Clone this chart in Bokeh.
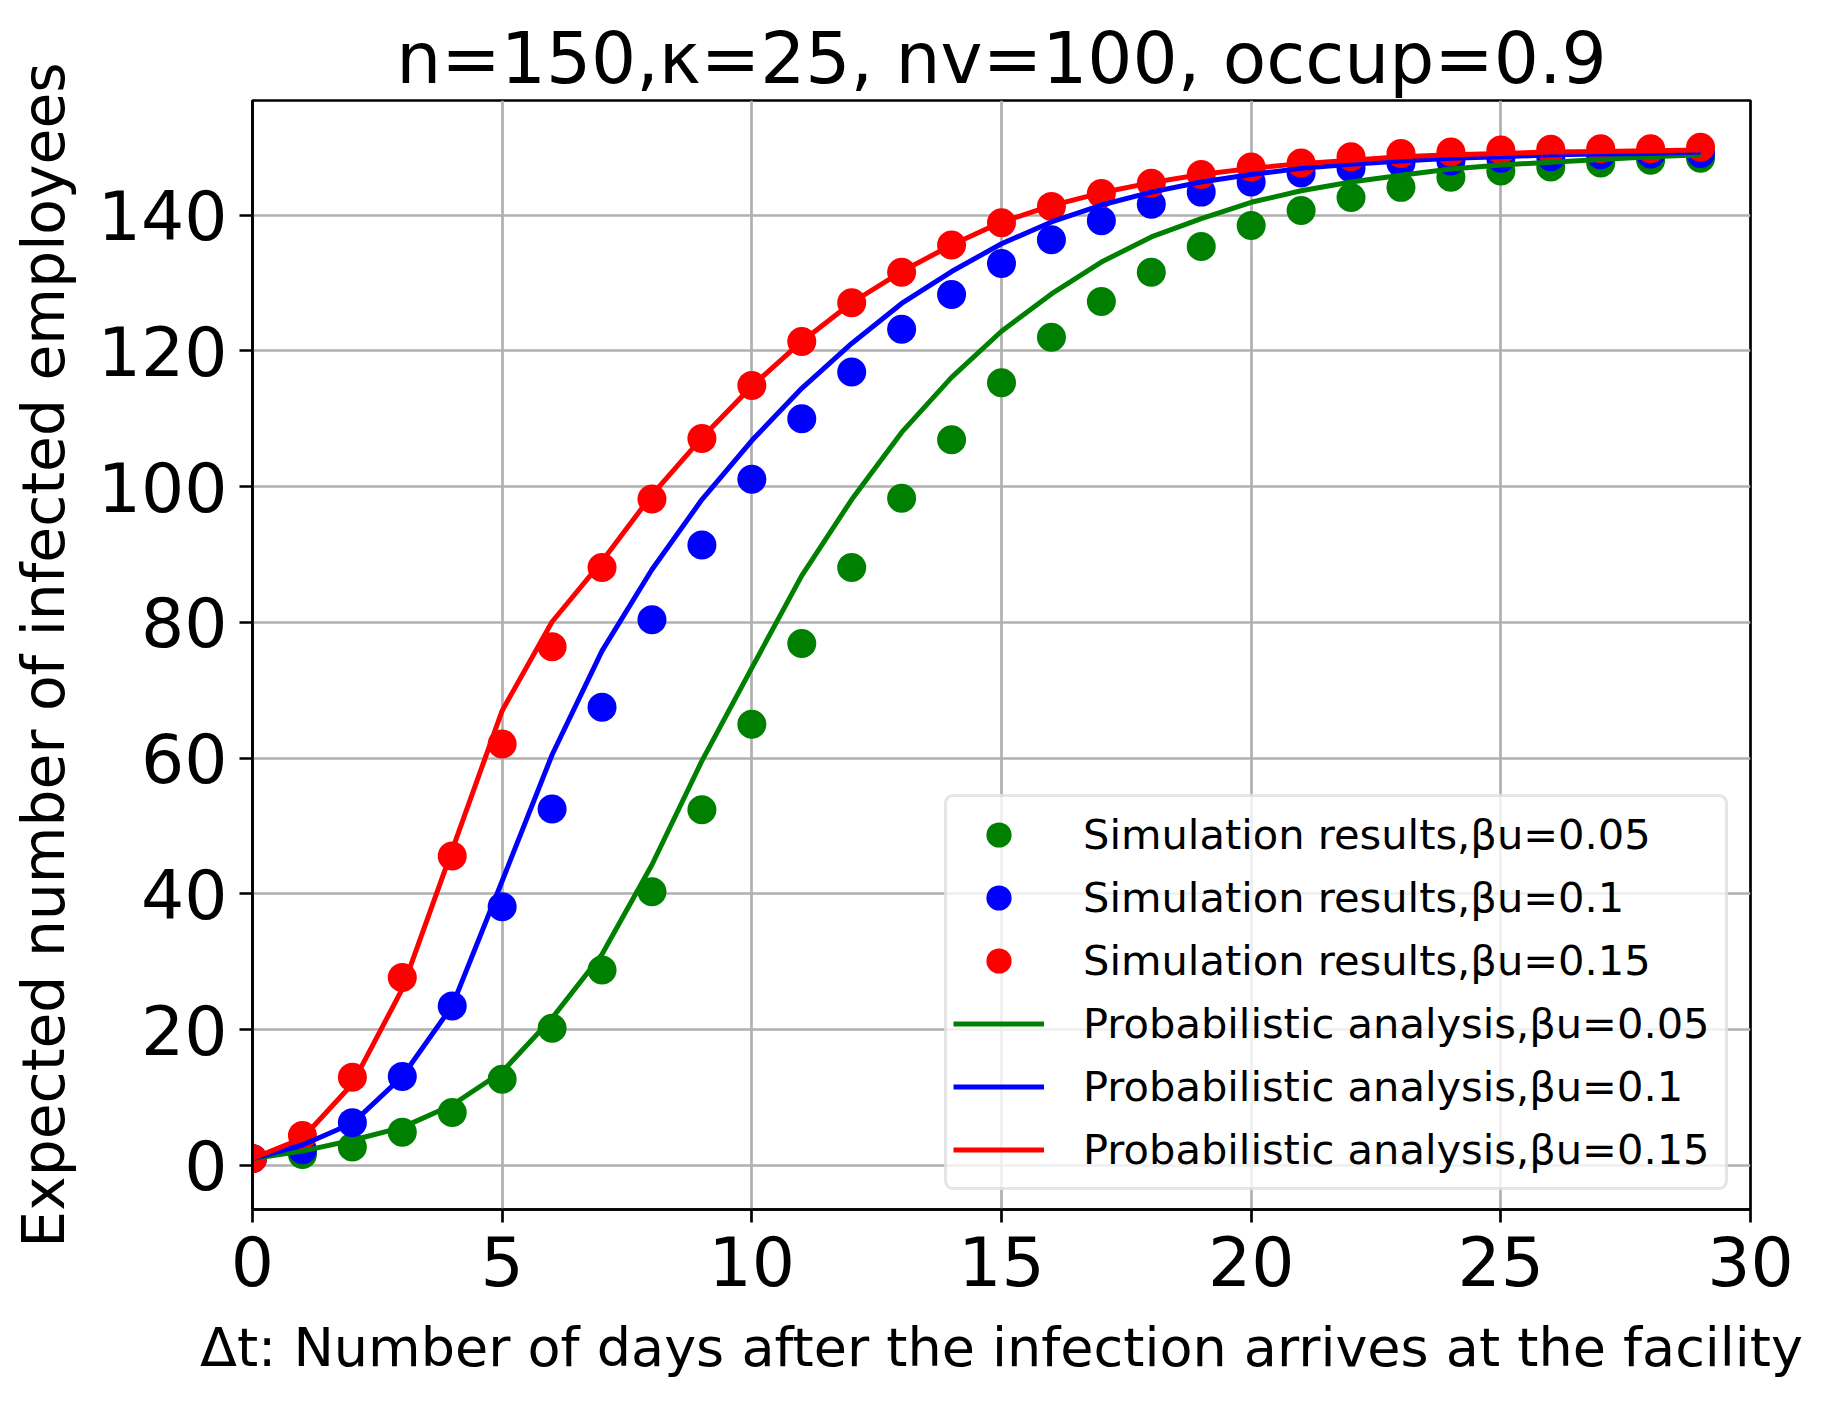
from bokeh.plotting import figure
from bokeh.models import Range1d, FixedTicker, Legend, LegendItem
from bokeh.embed import file_html
from bokeh.resources import INLINE

# ---- data ----
days = list(range(30))

sim_005 = [1.0, 1.6, 2.7, 4.9, 7.8, 12.7, 20.2, 28.8, 40.3, 52.4, 65.0, 76.9, 88.1, 98.3, 106.9,
           115.3, 122.0, 127.3, 131.6, 135.4, 138.5, 140.7, 142.6, 144.1, 145.6, 146.5, 147.1,
           147.7, 148.1, 148.4]
sim_010 = [1.0, 2.3, 6.3, 13.1, 23.5, 38.1, 52.5, 67.5, 80.4, 91.4, 101.1, 110.0, 116.9, 123.2,
           128.3, 132.9, 136.4, 139.2, 141.6, 143.4, 144.9, 146.2, 146.9, 147.7, 148.0, 148.4,
           148.6, 148.9, 149.0, 149.1]
sim_015 = [1.0, 4.4, 13.0, 27.7, 45.6, 62.1, 76.4, 88.1, 98.2, 107.1, 114.9, 121.4, 127.1, 131.6,
           135.6, 138.9, 141.3, 143.2, 144.7, 146.0, 147.1, 147.7, 148.6, 149.1, 149.3, 149.6,
           149.7, 149.8, 149.8, 150.0]

prob_005 = [1.0, 2.1, 3.7, 5.6, 8.9, 13.8, 21.7, 31.1, 44.3, 59.6, 73.3, 86.9, 98.1, 108.0, 116.1,
            122.9, 128.4, 133.1, 136.8, 139.5, 141.9, 143.6, 144.9, 145.9, 146.8, 147.4, 147.8,
            148.2, 148.6, 148.9]
prob_010 = [1.0, 3.0, 6.2, 13.1, 23.5, 41.9, 60.5, 75.8, 87.8, 98.1, 106.8, 114.5, 121.1, 127.0,
            131.7, 135.8, 139.0, 141.5, 143.4, 144.9, 146.0, 146.9, 147.5, 148.0, 148.4, 148.6,
            148.9, 149.0, 149.1, 149.3]
prob_015 = [1.0, 4.0, 12.0, 26.0, 46.5, 67.0, 80.1, 89.0, 98.8, 107.2, 114.8, 121.4, 127.1, 131.7,
            135.6, 139.0, 141.4, 143.3, 144.8, 146.0, 146.9, 147.6, 148.1, 148.6, 148.9, 149.1,
            149.3, 149.4, 149.5, 149.6]

sim_labels = ["Simulation results,βu=0.05", "Simulation results,βu=0.1", "Simulation results,βu=0.15"]
prob_labels = ["Probabilistic analysis,βu=0.05", "Probabilistic analysis,βu=0.1",
               "Probabilistic analysis,βu=0.15"]
colors = ["#008000", "#0000ff", "#ff0000"]

x_ticks = [0, 5, 10, 15, 20, 25, 30]
y_ticks = [0, 20, 40, 60, 80, 100, 120, 140]

title_text = "n=150,κ=25, nv=100, occup=0.9"
x_label = "Δt: Number of days after the infection arrives at the facility"
y_label = "Expected number of infected employees"

FONT = "DejaVu Sans"

p = figure(width=1821, height=1395, output_backend="svg", toolbar_location=None,
           x_range=Range1d(0, 30), y_range=Range1d(-6.5, 156.9),
           min_border_left=252, min_border_right=71, min_border_top=100, min_border_bottom=186)

p.background_fill_color = "white"
p.border_fill_color = "white"
p.outline_line_color = "black"
p.outline_line_width = 2.7

p.title.text = title_text
p.title.text_font = FONT
p.title.text_font_size = "71px"
p.title.text_font_style = "normal"
p.title.align = "center"
p.title.text_color = "black"
p.title.standoff = 1

for ax in (p.xaxis[0], p.yaxis[0]):
    ax.axis_line_width = 2.7
    ax.axis_line_color = "black"
    ax.major_tick_line_width = 2.7
    ax.major_tick_line_color = "black"
    ax.major_tick_out = 13
    ax.major_tick_in = 0
    ax.minor_tick_line_color = None
    ax.major_label_text_font = FONT
    ax.major_label_text_font_size = "68px"
    ax.major_label_text_color = "black"
    ax.axis_label_text_font = FONT
    ax.axis_label_text_font_style = "normal"
    ax.axis_label_text_color = "black"

p.xaxis[0].ticker = FixedTicker(ticks=x_ticks)
p.yaxis[0].ticker = FixedTicker(ticks=y_ticks)
p.xaxis[0].axis_label = x_label
p.yaxis[0].axis_label = y_label
p.xaxis[0].axis_label_text_font_size = "54px"
p.yaxis[0].axis_label_text_font_size = "58.3px"
p.xaxis[0].major_label_standoff = 13
p.yaxis[0].major_label_standoff = 12
p.xaxis[0].axis_label_standoff = 27
p.yaxis[0].axis_label_standoff = 17

p.grid.grid_line_color = "#b0b0b0"
p.grid.grid_line_width = 2.7
p.xgrid.ticker = FixedTicker(ticks=x_ticks)
p.ygrid.ticker = FixedTicker(ticks=y_ticks)

sim_series = [sim_005, sim_010, sim_015]
prob_series = [prob_005, prob_010, prob_015]

items = []
for vals, c, lab in zip(sim_series, colors, sim_labels):
    r = p.scatter(days, vals, size=29, fill_color=c, line_color=c, line_width=0)
    items.append(LegendItem(label=lab, renderers=[r]))
for vals, c, lab in zip(prob_series, colors, prob_labels):
    r = p.line(days, vals, line_color=c, line_width=5, line_join="round")
    items.append(LegendItem(label=lab, renderers=[r]))

legend = Legend(items=items, location=(692, 19))
legend.label_text_font = FONT
legend.label_text_font_size = "41.6px"
legend.label_text_color = "black"
legend.glyph_width = 91
legend.glyph_height = 63
legend.label_height = 63
legend.label_width = 636
legend.spacing = 0
legend.padding = 6
legend.margin = 0
legend.label_standoff = 39
legend.border_line_color = "#cccccc"
legend.border_line_width = 3
legend.border_radius = 9
legend.background_fill_color = "white"
legend.background_fill_alpha = 0.8
p.add_layout(legend)

open("out.html", "w").write(file_html(p, INLINE))
